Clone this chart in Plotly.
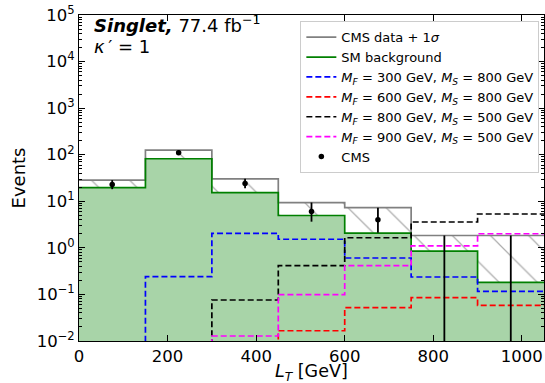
import numpy as np
import plotly.graph_objects as go

# ---------------- data ----------------
bin_edges = [0, 150, 300, 450, 600, 750, 900, 1050]

sm_background = [19.6, 82.0, 15.3, 4.95, 2.08, 0.855, 0.182]

cms_observed = [23, 110, 24, 6, 4, 0, 0]
cms_err_up = [5.5, 15.0, 6.3, 3.4, 3.3, 1.84, 1.84]
cms_err_down = [4.8, 10.0, 4.9, 2.35, 1.9, 0.0, 0.0]

sig_mf300_ms800 = [0, 0.24, 2.05, 1.53, 0.605, 0.237, 0.116]
sig_mf600_ms800 = [0, 0, 0, 0.0166, 0.052, 0.085, 0.058]
sig_mf800_ms500 = [0, 0, 0.076, 0.414, 1.65, 3.59, 5.33]
sig_mf900_ms500 = [0, 0, 0.0128, 0.0987, 0.414, 1.10, 2.01]

signal_labels = [
    "<i>M</i><sub><i>F</i></sub> = 300 GeV, <i>M</i><sub><i>S</i></sub> = 800 GeV",
    "<i>M</i><sub><i>F</i></sub> = 600 GeV, <i>M</i><sub><i>S</i></sub> = 800 GeV",
    "<i>M</i><sub><i>F</i></sub> = 800 GeV, <i>M</i><sub><i>S</i></sub> = 500 GeV",
    "<i>M</i><sub><i>F</i></sub> = 900 GeV, <i>M</i><sub><i>S</i></sub> = 500 GeV",
]
signal_colors = ["#0000ff", "#ff0000", "#000000", "#ff00ff"]

y_tick_vals = [1e-2, 1e-1, 1e0, 1e1, 1e2, 1e3, 1e4, 1e5]
y_tick_text = ["10<sup>−2</sup>", "10<sup>−1</sup>", "10<sup>0</sup>", "10<sup>1</sup>",
               "10<sup>2</sup>", "10<sup>3</sup>", "10<sup>4</sup>", "10<sup>5</sup>"]
x_tick_vals = [0, 200, 400, 600, 800, 1000]
x_tick_text = ["0", "200", "400", "600", "800", "1000"]

# ---------------- helpers ----------------
FLOOR = 1e-6  # stands in for empty bins on the log axis (drawn below the visible range)


def step_xy(vals):
    v = [float(x) if x > 0 else FLOOR for x in vals]
    return list(bin_edges), v + [v[-1]]


edges = np.array(bin_edges, dtype=float)
centers = 0.5 * (edges[:-1] + edges[1:])
obs = np.array(cms_observed, dtype=float)
upper = obs + np.array(cms_err_up)

fig = go.Figure()

# floor helper for the green fill
fx, fy = step_xy([FLOOR] * len(sm_background))
fig.add_trace(go.Scatter(x=fx, y=fy, mode="lines", line=dict(width=0, shape="hv"),
                         showlegend=False, hoverinfo="skip"))
# green SM fill
sx, sy = step_xy(sm_background)
fig.add_trace(go.Scatter(x=sx, y=sy, mode="lines", line=dict(width=0, shape="hv"),
                         fill="tonexty", fillcolor="rgba(0,128,0,0.34)",
                         showlegend=False, hoverinfo="skip"))
# hatched band between SM and data + 1 sigma
ux, uy = step_xy(list(upper))
fig.add_trace(go.Scatter(x=ux, y=uy, mode="lines", line=dict(width=0, shape="hv"),
                         fill="tonexty", fillcolor="rgba(0,0,0,0)",
                         fillpattern=dict(shape="\\", size=27, solidity=0.045,
                                          fgcolor="#5a5a5a", bgcolor="rgba(0,0,0,0)"),
                         showlegend=False, hoverinfo="skip"))

# gray data + 1 sigma line
fig.add_trace(go.Scatter(x=ux, y=uy, mode="lines", name="CMS data + 1<i>σ</i>",
                         line=dict(color="#808080", width=1.7, shape="hv"), legendrank=1))
# green SM line
fig.add_trace(go.Scatter(x=sx, y=sy, mode="lines", name="SM background",
                         line=dict(color="#008000", width=1.7, shape="hv"), legendrank=2))

for i, (vals, lab, col) in enumerate(zip(
        [sig_mf300_ms800, sig_mf600_ms800, sig_mf800_ms500, sig_mf900_ms500],
        signal_labels, signal_colors)):
    x, y = step_xy(vals)
    fig.add_trace(go.Scatter(x=x, y=y, mode="lines", name=lab,
                             line=dict(color=col, width=1.7, shape="hv", dash="6px,3px"),
                             legendrank=3 + i))

# CMS data points
obs_plot = [v if v > 0 else FLOOR for v in cms_observed]
fig.add_trace(go.Scatter(
    x=centers, y=obs_plot, mode="markers", name="CMS",
    marker=dict(color="black", size=5.5),
    error_y=dict(type="data", symmetric=False, array=cms_err_up, arrayminus=cms_err_down,
                 color="black", thickness=1.8, width=0),
    cliponaxis=True, legendrank=7))

# minor ticks for the log axis
minor_vals = [m * 10.0 ** e for e in range(-2, 5) for m in range(2, 10)]

fig.update_layout(
    width=545, height=383,
    margin=dict(l=78.5, r=0.5, t=15, b=42, autoexpand=False),
    paper_bgcolor="white", plot_bgcolor="white",
    font=dict(family="DejaVu Sans", color="black", size=16),
    showlegend=True,
    legend=dict(x=0.99, y=0.981, xanchor="right", yanchor="top", traceorder="normal",
                bgcolor="rgba(255,255,255,0.85)", bordercolor="#cccccc", borderwidth=1,
                font=dict(size=13, family="DejaVu Sans"), tracegroupgap=0),
    xaxis=dict(range=[0, 1050], tickmode="array", tickvals=x_tick_vals, ticktext=x_tick_text,
               ticks="inside", ticklen=6, tickcolor="black", showline=True, linecolor="black",
               linewidth=1, mirror="ticks", showgrid=False, zeroline=False,
               tickfont=dict(size=16.5)),
    yaxis=dict(type="log", range=[-2, 5], tickmode="array", tickvals=y_tick_vals,
               ticktext=y_tick_text, ticks="inside", ticklen=6, tickcolor="black",
               showline=True, linecolor="black", linewidth=1, mirror="ticks",
               showgrid=False, zeroline=False, tickfont=dict(size=16.5),
               minor=dict(tickvals=minor_vals, ticks="inside", ticklen=3, tickcolor="black",
                          showgrid=False),
               title=dict(text="Events", font=dict(size=18), standoff=6)),
    annotations=[
        dict(xref="paper", yref="paper", x=0.028, y=0.972, xanchor="left", yanchor="middle",
             text="<b><i>Singlet,</i></b> 77.4 fb<sup>−1</sup>", showarrow=False,
             font=dict(size=18)),
        dict(xref="paper", yref="paper", x=0.028, y=0.902, xanchor="left", yanchor="middle",
             text="<i>κ</i>\u2009′ = 1", showarrow=False, font=dict(size=18)),
        dict(xref="paper", yref="paper", x=0.5, y=-0.096, xanchor="center", yanchor="middle",
             text="<i>L</i><sub><i>T</i></sub> [GeV]", showarrow=False, font=dict(size=17.5)),
    ],
)

fig.write_html("out.html")
